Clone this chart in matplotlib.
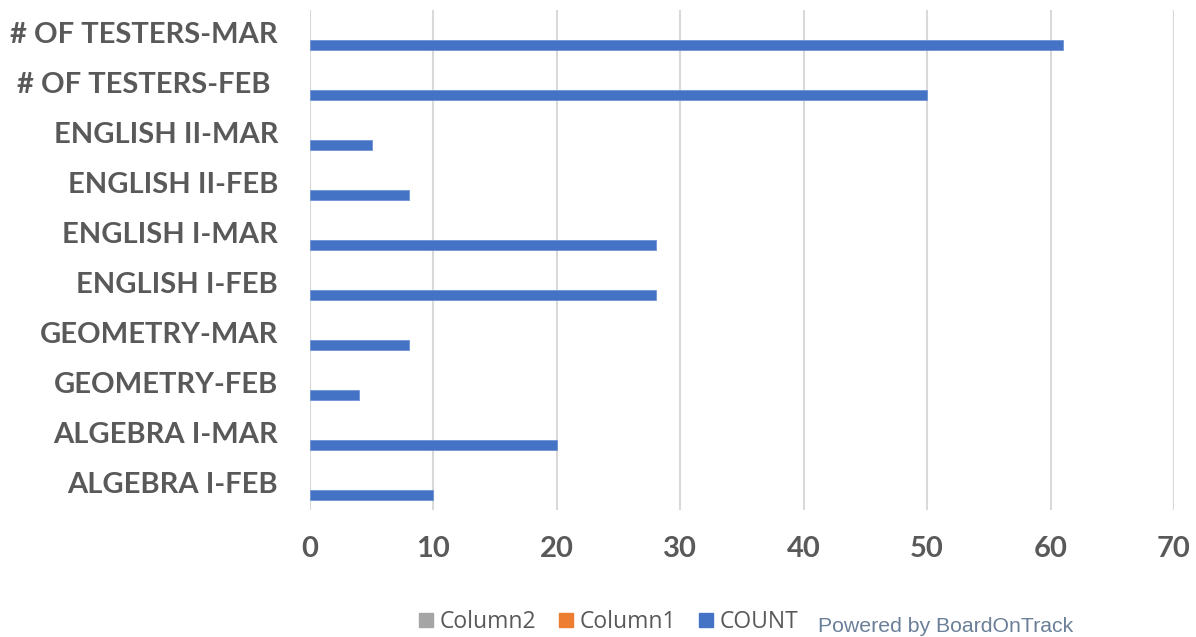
import numpy as np
import matplotlib
matplotlib.use("Agg")
import matplotlib.pyplot as plt
import matplotlib.transforms as mtransforms
from matplotlib.lines import Line2D

# categories bottom -> top
categories = ["ALGEBRA I-FEB", "ALGEBRA I-MAR", "GEOMETRY-FEB", "GEOMETRY-MAR",
              "ENGLISH I-FEB", "ENGLISH I-MAR", "ENGLISH II-FEB", "ENGLISH II-MAR",
              "# OF TESTERS-FEB ", "# OF TESTERS-MAR"]
count = [10, 20, 4, 8, 28, 28, 8, 5, 50, 61]
column1 = [0] * 10
column2 = [0] * 10
x_ticks = [0, 10, 20, 30, 40, 50, 60, 70]

c_count = "#4472c4"
c_col1 = "#ed7d31"
c_col2 = "#a5a5a5"
txt = "#595959"

fig = plt.figure(figsize=(11.96, 6.37), dpi=100)
ax = fig.add_axes([0.2592, 0.1994, 0.7224, 0.7849])

y = np.arange(len(categories))
h = 0.2
ax.barh(y + h, column2, height=h, color=c_col2)
ax.barh(y, column1, height=h, color=c_col1)
ax.barh(y - h, count, height=h, color=c_count, edgecolor="#6f93d6", linewidth=0.6)

ax.set_xlim(0, 70)
ax.set_ylim(-0.5, len(categories) - 0.5)
ax.set_xticks(x_ticks)
ax.set_yticks(y)
ax.set_yticklabels(categories)
ax.grid(axis="x", color="#d9d9d9", linewidth=1.5)
ax.set_axisbelow(True)
for s in ax.spines.values():
    s.set_visible(False)
ax.tick_params(length=0)
ax.tick_params(axis="y", pad=23)
ax.tick_params(axis="x", pad=19)
for lab in ax.get_yticklabels() + ax.get_xticklabels():
    lab.set_fontfamily("Lato")
    lab.set_fontweight("bold")
    lab.set_fontsize(21)
    lab.set_color(txt)

# nudge category labels up a little
shift = mtransforms.ScaledTranslation(0, 1.5 / 72, fig.dpi_scale_trans)
for lab in ax.get_yticklabels():
    lab.set_transform(lab.get_transform() + shift)

handles = [Line2D([], [], marker="s", linestyle="", markersize=9.5, color=c)
           for c in (c_col2, c_col1, c_count)]
fig.legend(handles, ["Column2", "Column1", "COUNT"], loc="center",
           bbox_to_anchor=(0.509, 0.024), ncol=3, frameon=False,
           prop={"family": "Open Sans", "size": 16.5}, labelcolor=txt,
           handlelength=0.6, handletextpad=0.3, columnspacing=1.0,
           borderpad=0, borderaxespad=0)

fig.text(0.684, 0.017, "Powered by BoardOnTrack", fontsize=15.3,
         family="Liberation Sans", color="#6b7f99", va="center")

fig.savefig("out.png", dpi=100)
